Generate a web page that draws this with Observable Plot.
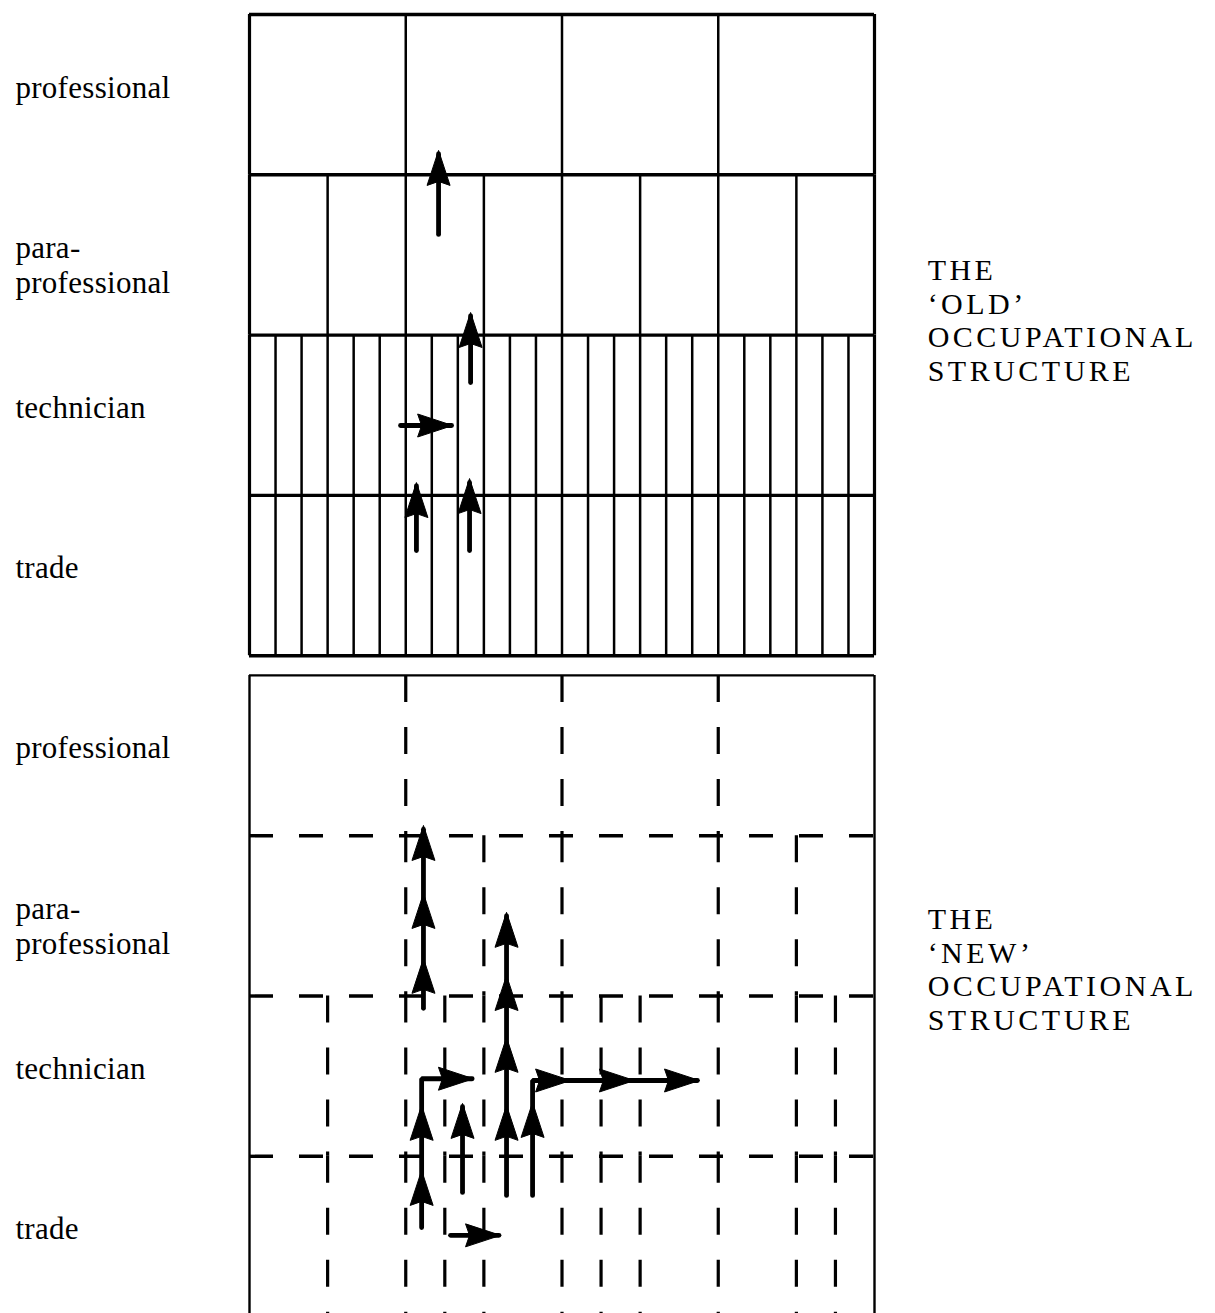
<!DOCTYPE html>
<html>
<head>
<meta charset="utf-8">
<script src="https://cdn.jsdelivr.net/npm/d3@7"></script>
<script src="https://cdn.jsdelivr.net/npm/@observablehq/plot@0.6"></script>
<style>
  html, body { margin: 0; padding: 0; background: #fff; }
  #chart { width: 1215px; height: 1313px; overflow: hidden; }
  #chart g[font-size="30"] text { letter-spacing: 3.5px; }
  #chart g[font-size="31"] text { letter-spacing: 0.3px; }
</style>
</head>
<body>
<div id="chart"></div>
<script>
// ---------------- DATA ----------------
// Occupational levels (rows, top to bottom)
const occupations = ["professional", "para-\nprofessional", "technician", "trade"];
// The two structures (panels, top to bottom)
const structures = ["old", "new"];
const structureTitles = ["THE\n‘OLD’\nOCCUPATIONAL\nSTRUCTURE", "THE\n‘NEW’\nOCCUPATIONAL\nSTRUCTURE"];

// 'Old' structure: number of equal job cells in each level
const oldCellsPerLevel = [4, 8, 24, 24];

// 'New' structure: positions of the dashed dividers in each level (units of 1/24 of the width)
const newDividers = [
  [6, 12, 18],
  [6, 9, 12, 18, 21],
  [3, 6, 7.5, 9, 12, 13.5, 15, 18, 21, 22.5],
  [3, 6, 7.5, 9, 12, 13.5, 15, 18, 21, 22.5]
];

// Mobility paths: [x (1/24 width), y (levels from panel top)]
const oldPaths = [
  [[7.26, 1.372], [7.26, 0.87]],
  [[8.49, 2.296], [8.49, 1.88]],
  [[5.80, 2.564], [7.76, 2.564]],
  [[6.41, 3.344], [6.41, 2.94]],
  [[8.45, 3.344], [8.45, 2.92]]
];
const oldHeadsUp = [[7.26, 0.848], [8.49, 1.859], [6.41, 2.92], [8.45, 2.895]];
const oldHeadsRight = [[7.80, 2.564]];

const newPaths = [
  [[6.68, 2.077], [6.68, 0.96]],
  [[6.61, 3.444], [6.61, 2.516], [8.55, 2.516]],
  [[8.18, 3.225], [8.18, 2.69]],
  [[9.87, 3.244], [9.87, 1.50]],
  [[10.87, 3.244], [10.87, 2.527], [17.20, 2.527]],
  [[7.72, 3.493], [9.58, 3.493]]
];
const newHeadsUp = [
  [6.68, 0.936], [6.68, 1.360], [6.68, 1.765],
  [6.61, 2.682], [6.61, 3.088],
  [8.18, 2.670],
  [9.87, 1.478], [9.87, 1.872], [9.87, 2.258], [9.87, 2.682],
  [10.87, 2.664]
];
const newHeadsRight = [[8.60, 2.516], [12.33, 2.527], [14.78, 2.527], [17.28, 2.527], [9.64, 3.493]];

// ---------------- LAYOUT ----------------
const COLS = 24;
const LEVELS = 4;
const PANEL_OFFSET = {old: 0, new: 4.123};
const TITLE_Y = {old: 1.905, new: 1.829};
const LABEL_X = -8.99;
const TITLE_X = 26.04;
const FONT = "'Liberation Serif', 'Times New Roman', serif";

// arrowhead symbols (tip at the point)
const HL = 35, HW = 23, HN = 4;
const headUp = {draw(ctx) {
  ctx.moveTo(0, 0); ctx.lineTo(HW / 2, HL); ctx.lineTo(0, HL - HN); ctx.lineTo(-HW / 2, HL); ctx.closePath();
}};
const headRight = {draw(ctx) {
  ctx.moveTo(0, 0); ctx.lineTo(-HL, HW / 2); ctx.lineTo(-(HL - HN), 0); ctx.lineTo(-HL, -HW / 2); ctx.closePath();
}};

// ---------------- DERIVED TABLES ----------------
const oldVertical = [];
oldCellsPerLevel.forEach((n, r) => {
  for (let k = 0; k <= n; k++) oldVertical.push({x: COLS * k / n, y1: r, y2: r + 1, border: k === 0 || k === n});
});
const oldHorizontal = d3.range(LEVELS + 1);

const newOff = PANEL_OFFSET.new;
const newVertical = [];
newDividers.forEach((xs, r) => xs.forEach(x => newVertical.push({x, y1: newOff + r, y2: newOff + r + 1})));
const newInner = d3.range(1, LEVELS).map(r => newOff + r);

function pathRows(paths, panel) {
  const rows = [];
  paths.forEach((p, i) => p.forEach(([x, y]) => rows.push({id: panel + i, x, y: PANEL_OFFSET[panel] + y})));
  return rows;
}
function headRows(heads, panel) {
  return heads.map(([x, y]) => ({x, y: PANEL_OFFSET[panel] + y}));
}
const shafts = [...pathRows(oldPaths, "old"), ...pathRows(newPaths, "new")];
const upHeads = [...headRows(oldHeadsUp, "old"), ...headRows(newHeadsUp, "new")];
const rightHeads = [...headRows(oldHeadsRight, "old"), ...headRows(newHeadsRight, "new")];

const levelLabels = [];
structures.forEach(s => occupations.forEach((o, r) => levelLabels.push({text: o, y: PANEL_OFFSET[s] + r + 0.5, multi: o.includes("\n")})));
const titles = structures.map((s, i) => ({text: structureTitles[i], y: PANEL_OFFSET[s] + TITLE_Y[s]}));

// ---------------- PLOT ----------------
const yMax = newOff + LEVELS;
const chart = Plot.plot({
  width: 1215,
  height: 1313,
  margin: 0,
  x: {domain: [0, COLS], range: [249, 874], axis: null},
  y: {domain: [0, yMax], range: [14, 14 + yMax * 160.3], axis: null},
  style: {background: "white", color: "black"},
  marks: [
    // old structure grid (solid)
    Plot.ruleX(oldVertical.filter(d => !d.border), {x: "x", y1: "y1", y2: "y2", stroke: "black", strokeWidth: 2.5}),
    Plot.ruleX(oldVertical.filter(d => d.border), {x: "x", y1: "y1", y2: "y2", stroke: "black", strokeWidth: 3.2}),
    Plot.ruleY(oldHorizontal, {y: d => d, x1: () => 0, x2: () => COLS, stroke: "black", strokeWidth: 3.4}),
    // new structure frame (solid)
    Plot.ruleX([0, COLS], {x: d => d, y1: () => newOff, y2: () => yMax, stroke: "black", strokeWidth: 2.4}),
    Plot.ruleY([newOff, yMax], {y: d => d, x1: () => 0, x2: () => COLS, stroke: "black", strokeWidth: 2.4}),
    // new structure grid (dashed)
    Plot.ruleY(newInner, {y: d => d, x1: () => 0, x2: () => COLS, stroke: "black", strokeWidth: 3.4, strokeDasharray: "24,26"}),
    Plot.ruleX(newVertical, {x: "x", y1: "y1", y2: "y2", stroke: "black", strokeWidth: 3.2, strokeDasharray: "27,25"}),
    // mobility arrows
    Plot.line(shafts, {x: "x", y: "y", z: "id", stroke: "black", strokeWidth: 4.8, strokeLinecap: "round", strokeLinejoin: "miter"}),
    Plot.dot(upHeads, {x: "x", y: "y", symbol: headUp, fill: "black", stroke: "black", strokeWidth: 1}),
    Plot.dot(rightHeads, {x: "x", y: "y", symbol: headRight, fill: "black", stroke: "black", strokeWidth: 1}),
    // level labels
    Plot.text(levelLabels.filter(d => !d.multi), {x: () => LABEL_X, y: "y", text: "text", textAnchor: "start", fontSize: 31, fontFamily: FONT, fill: "black", dy: -7}),
    Plot.text(levelLabels.filter(d => d.multi), {x: () => LABEL_X, y: "y", text: "text", textAnchor: "start", fontSize: 31, fontFamily: FONT, fill: "black", lineHeight: 1.13, dy: 9}),
    // structure titles
    Plot.text(titles, {x: () => TITLE_X, y: "y", text: "text", textAnchor: "start", fontSize: 30, fontFamily: FONT, fill: "black", lineHeight: 1.117})
  ]
});
document.getElementById("chart").appendChild(chart);
</script>
</body>
</html>
